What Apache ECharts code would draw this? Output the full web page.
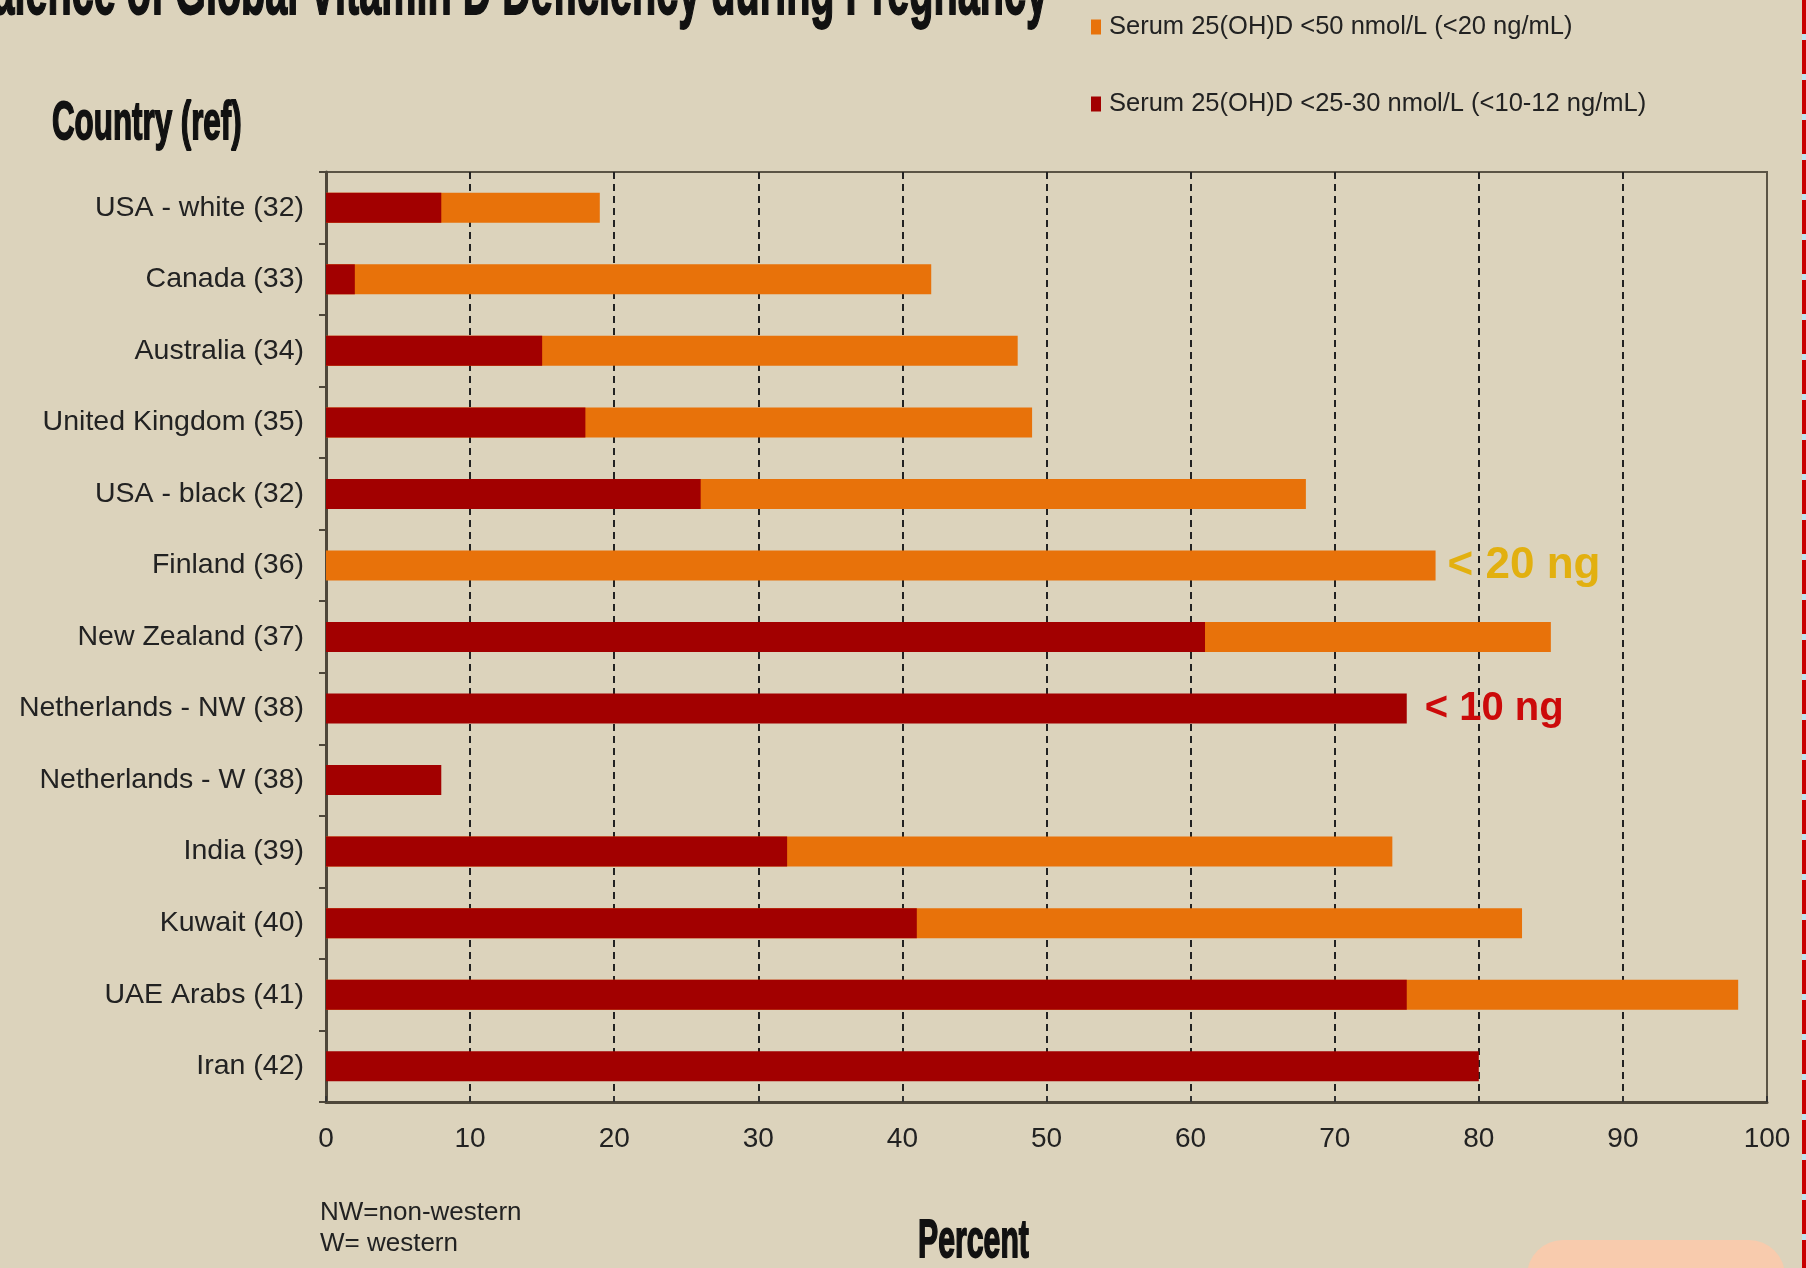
<!DOCTYPE html>
<html>
<head>
<meta charset="utf-8">
<script src="https://cdn.jsdelivr.net/npm/echarts@6/dist/echarts.min.js"></script>
<style>
html,body{margin:0;padding:0;background:#DCD3BC;}
#chart{width:1806px;height:1268px;}
</style>
</head>
<body>
<div id="chart"></div>
<script>
// ---- data ----
const categories = [
  'USA - white (32)', 'Canada (33)', 'Australia (34)', 'United Kingdom (35)',
  'USA - black (32)', 'Finland (36)', 'New Zealand (37)', 'Netherlands - NW (38)',
  'Netherlands - W (38)', 'India (39)', 'Kuwait (40)', 'UAE Arabs (41)', 'Iran (42)'
];
// % with serum 25(OH)D < 50 nmol/L (orange bar, total length)
const below50 = [19, 42, 48, 49, 68, 77, 85, null, null, 74, 83, 98, null];
// % with serum 25(OH)D < 25-30 nmol/L (dark red bar)
const below25 = [8, 2, 15, 18, 26, null, 61, 75, 8, 32, 41, 75, 80];
const xTickValues = [0, 10, 20, 30, 40, 50, 60, 70, 80, 90, 100];
const seriesNames = ['Serum 25(OH)D <50 nmol/L (<20 ng/mL)', 'Serum 25(OH)D <25-30 nmol/L (<10-12 ng/mL)'];
const annotations = [
  { series: 0, category: 'Finland (36)', text: '< 20 ng' },
  { series: 1, category: 'Netherlands - NW (38)', text: '< 10 ng' }
];

// ---- styles ----
const ORANGE = '#E8720A';
const DARKRED = '#A20000';
const annStyle = [
  { color: '#E2B010', fontSize: 44, distance: 12 },
  { color: '#CC0A0A', fontSize: 40, distance: 18 }
];
const FONT = '"Liberation Sans", Arial, sans-serif';

function buildData(values, sIdx) {
  return values.map((v, i) => {
    const ann = annotations.find(a => a.series === sIdx && a.category === categories[i]);
    if (!ann) return v;
    const st = annStyle[sIdx];
    return {
      value: v,
      label: {
        show: true, position: 'right', formatter: ann.text,
        color: st.color, fontSize: st.fontSize, fontWeight: 'bold',
        distance: st.distance, fontFamily: FONT
      }
    };
  });
}

function heading(text, x, y, size, sx, align) {
  return {
    type: 'text', x: x, y: y, scaleX: sx,
    style: { text: text, font: 'bold ' + size + 'px ' + FONT, fill: '#111',
      stroke: '#111', lineWidth: 1.8,
      textAlign: align, textVerticalAlign: 'middle', align: align, verticalAlign: 'middle' }
  };
}

const chart = echarts.init(document.getElementById('chart'), null, { renderer: 'canvas' });
const option = {
  backgroundColor: '#DCD3BC',
  animation: false,
  textStyle: { fontFamily: FONT },
  grid: {
    left: 326, right: 39, top: 172, bottom: 166,
    show: true, borderColor: '#5B5445', borderWidth: 2, backgroundColor: 'transparent'
  },
  legend: {
    orient: 'vertical', left: 1091, top: 14, padding: 0,
    data: seriesNames, icon: 'rect', itemWidth: 10, itemHeight: 15, itemGap: 51,
    textStyle: { fontSize: 25.5, color: '#222', lineHeight: 26, padding: [0, 0, 0, 3] }
  },
  xAxis: {
    type: 'value', min: xTickValues[0], max: xTickValues[xTickValues.length - 1],
    interval: xTickValues[1] - xTickValues[0],
    axisLine: { show: true, lineStyle: { color: '#4E473A', width: 3 } },
    axisTick: { show: true, inside: true, length: 6, lineStyle: { color: '#333', width: 2 } },
    axisLabel: { fontSize: 28, color: '#222', margin: 23 },
    splitLine: { show: true, showMinLine: false, showMaxLine: false, lineStyle: { type: [7, 5], color: '#222', width: 2 } }
  },
  yAxis: {
    type: 'category', data: categories, inverse: true,
    axisLine: { show: true, lineStyle: { color: '#4E473A', width: 3 } },
    axisTick: { show: true, length: 7, lineStyle: { color: '#4E473A', width: 2 } },
    axisLabel: { fontSize: 28.5, color: '#222', margin: 22 }
  },
  series: [
    {
      name: seriesNames[0], type: 'bar', data: buildData(below50, 0), barWidth: 30,
      itemStyle: { color: ORANGE }, z: 2
    },
    {
      name: seriesNames[1], type: 'bar', data: buildData(below25, 1), barWidth: 30, barGap: '-100%',
      itemStyle: { color: DARKRED }, z: 3
    }
  ],
  graphic: [
    heading('Prevalence of Global Vitamin D Deficiency during Pregnancy', 1048, -6, 72, 0.55, 'right'),
    heading('Country (ref)', 52, 124, 54, 0.58, 'left'),
    heading('Percent', 918, 1242, 54, 0.56, 'left'),
    {
      type: 'text', x: 320, y: 1213,
      style: { text: 'NW=non-western', font: '26px ' + FONT, fill: '#222',
        textAlign: 'left', textVerticalAlign: 'middle', align: 'left', verticalAlign: 'middle' }
    },
    {
      type: 'text', x: 320, y: 1244,
      style: { text: 'W= western', font: '26px ' + FONT, fill: '#222',
        textAlign: 'left', textVerticalAlign: 'middle', align: 'left', verticalAlign: 'middle' }
    },
    {
      type: 'rect', shape: { x: 1527, y: 1240, width: 258, height: 80, r: 36 },
      style: { fill: '#F8CBAD' }
    },
    {
      type: 'rect', shape: { x: 1802, y: 0, width: 4, height: 1268 },
      style: { fill: '#BFE3EF' }
    },
    {
      type: 'line', shape: { x1: 1804, y1: 0, x2: 1804, y2: 1268 },
      style: { stroke: '#C80000', lineWidth: 4, lineDash: [34, 6] }
    }
  ]
};
chart.setOption(option);
</script>
</body>
</html>
